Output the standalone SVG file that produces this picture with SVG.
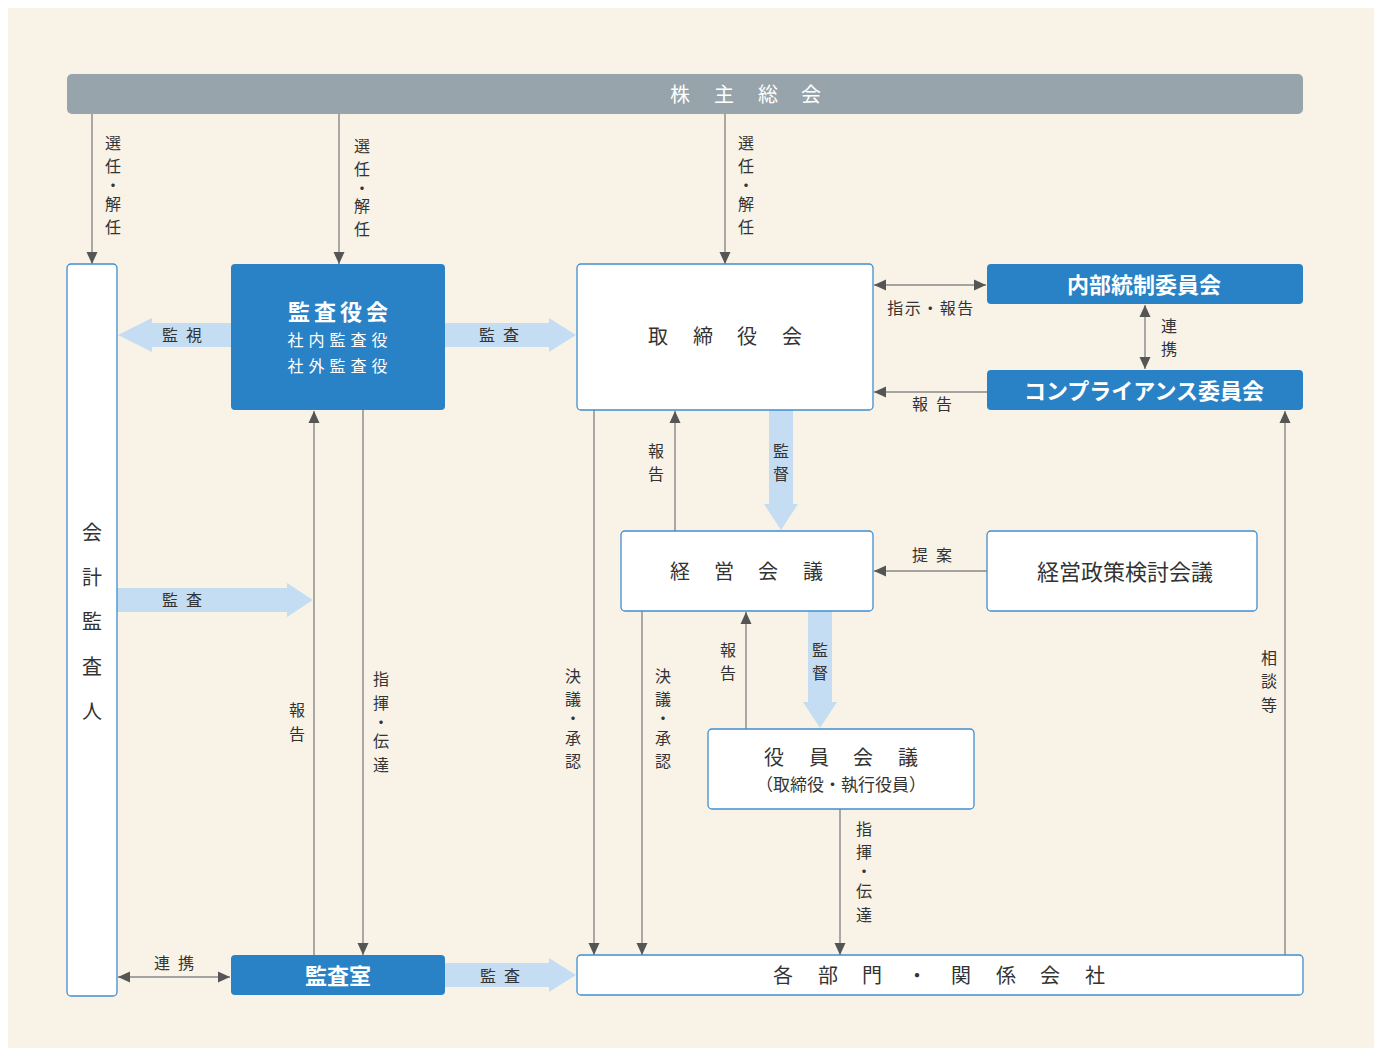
<svg xmlns="http://www.w3.org/2000/svg" width="1382" height="1048" viewBox="0 0 1382 1048">
<defs>
<style>
text{font-family:"Noto Sans CJK JP","Noto Sans",sans-serif;fill:#333;dominant-baseline:central;text-anchor:middle;transform:translate(0px,-1px)}
.lbl{font-size:16px}
.big{font-size:20px}
.ttl{font-size:22px}
.wt{fill:#fff}
.bold{font-weight:700}
.ln{stroke:#888;stroke-width:1.4;fill:none}
.arr{marker-end:url(#ah)}
.dbl{marker-start:url(#ah);marker-end:url(#ah)}
.wbox{fill:#fff;stroke:#3f8fd0;stroke-width:1.3}
.bbox{fill:#2a82c6}
.ba{fill:#c5ddf2}
</style>
<marker id="ah" viewBox="0 0 12 12" refX="12" refY="6" markerWidth="12" markerHeight="12" markerUnits="userSpaceOnUse" orient="auto-start-reverse">
<path d="M0,0.5 L12,6 L0,11.5 Z" fill="#555"/>
</marker>
</defs>
<rect width="1382" height="1048" fill="#fff"/>
<rect x="8" y="8" width="1366" height="1040" fill="#f8f2e7"/>

<g id="connectors">
<line class="ln arr" x1="92" y1="114" x2="92" y2="264"/>
<line class="ln arr" x1="339" y1="114" x2="339" y2="264"/>
<line class="ln arr" x1="725" y1="114" x2="725" y2="264"/>
<line class="ln dbl" x1="874" y1="285" x2="986" y2="285"/>
<line class="ln dbl" x1="1145" y1="305" x2="1145" y2="369"/>
<line class="ln arr" x1="987" y1="392" x2="874" y2="392"/>
<line class="ln arr" x1="675" y1="531" x2="675" y2="411"/>
<line class="ln arr" x1="987" y1="571" x2="874" y2="571"/>
<line class="ln arr" x1="594" y1="410" x2="594" y2="955"/>
<line class="ln arr" x1="642" y1="611" x2="642" y2="955"/>
<line class="ln arr" x1="746" y1="729" x2="746" y2="612"/>
<line class="ln arr" x1="840" y1="809" x2="840" y2="955"/>
<line class="ln arr" x1="1285" y1="955" x2="1285" y2="411"/>
<line class="ln arr" x1="314" y1="955" x2="314" y2="411"/>
<line class="ln arr" x1="363" y1="410" x2="363" y2="955"/>
<line class="ln dbl" x1="118" y1="977" x2="230" y2="977"/>
<polygon class="ba" points="231,323 152,323 152,318 118,335 152,352 152,347 231,347"/>
<polygon class="ba" points="445,323 549,323 549,318 576,335 549,352 549,347 445,347"/>
<polygon class="ba" points="769,410 793,410 793,504 798,504 781,530 764,504 769,504"/>
<polygon class="ba" points="808,611 832,611 832,702 837,702 820,728 803,702 808,702"/>
<polygon class="ba" points="117,588 287,588 287,583 313,600 287,617 287,612 117,612"/>
<polygon class="ba" points="445,963 549,963 549,958 576,975 549,992 549,987 445,987"/>
<text class="lbl" x="113 113 113 113 113" y="143 166 185 204 227">選任・解任</text>
<text class="lbl" x="362 362 362 362 362" y="146 169 188 206 229">選任・解任</text>
<text class="lbl" x="746 746 746 746 746" y="143 166 185 204 227">選任・解任</text>
<text class="lbl" x="170 194" y="335">監視</text>
<text class="lbl" x="487 511" y="335">監査</text>
<text class="lbl" x="931" y="308" letter-spacing="1.5">指示・報告</text>
<text class="lbl" x="920 944" y="404">報告</text>
<text class="lbl" x="1169 1169" y="326 349">連携</text>
<text class="lbl" x="656 656" y="451 474">報告</text>
<text class="lbl" x="781 781" y="451 474">監督</text>
<text class="lbl" x="920 944" y="555">提案</text>
<text class="lbl" x="573 573 573 573 573" y="676 699 718 738 761">決議・承認</text>
<text class="lbl" x="663 663 663 663 663" y="676 699 718 738 761">決議・承認</text>
<text class="lbl" x="728 728" y="650 673">報告</text>
<text class="lbl" x="820 820" y="650 673">監督</text>
<text class="lbl" x="864 864 864 864 864" y="829 852 871 891 915">指揮・伝達</text>
<text class="lbl" x="1269 1269 1269" y="658 681 705">相談等</text>
<text class="lbl" x="170 194" y="600">監査</text>
<text class="lbl" x="297 297" y="710 734">報告</text>
<text class="lbl" x="381 381 381 381 381" y="679 703 722 741 765">指揮・伝達</text>
<text class="lbl" x="162 186" y="963">連携</text>
<text class="lbl" x="488 512" y="976">監査</text>
</g>

<g id="shareholders">
<rect x="67" y="74" width="1236" height="40" rx="5" fill="#98a4ab"/>
<text class="big wt" x="680 724 768 811" y="94">株主総会</text>
</g>
<g id="auditor">
<rect class="wbox" x="67" y="264" width="50" height="732" rx="4"/>
<text class="big" x="92 92 92 92 92" y="532 577 621 666 711">会計監査人</text>
</g>
<g id="kansayakukai">
<rect class="bbox" x="231" y="264" width="214" height="146" rx="4"/>
<text class="ttl wt bold" x="340" y="311" letter-spacing="4">監査役会</text>
<text class="lbl wt" x="340" y="340" letter-spacing="5">社内監査役</text>
<text class="lbl wt" x="340" y="366" letter-spacing="5">社外監査役</text>
</g>
<g id="board">
<rect class="wbox" x="577" y="264" width="296" height="146" rx="4"/>
<text class="big" x="658 703 747 792" y="336">取締役会</text>
</g>
<g id="naibu">
<rect class="bbox" x="987" y="264" width="316" height="40" rx="4"/>
<text class="ttl wt bold" x="1144" y="284">内部統制委員会</text>
</g>
<g id="compliance">
<rect class="bbox" x="987" y="370" width="316" height="40" rx="4"/>
<text class="ttl wt bold" x="1144" y="390">コンプライアンス委員会</text>
</g>
<g id="keiei">
<rect class="wbox" x="621" y="531" width="252" height="80" rx="4"/>
<text class="big" x="680 724 768 813" y="571">経営会議</text>
</g>
<g id="seisaku">
<rect class="wbox" x="987" y="531" width="270" height="80" rx="4"/>
<text class="ttl" x="1125" y="571">経営政策検討会議</text>
</g>
<g id="yakuin">
<rect class="wbox" x="708" y="729" width="266" height="80" rx="4"/>
<text class="big" x="774 819 863 908" y="757">役員会議</text>
<text x="841" y="784" font-size="17">（取締役・執行役員）</text>
</g>
<g id="kansashitsu">
<rect class="bbox" x="231" y="955" width="214" height="40" rx="4"/>
<text class="ttl wt bold" x="338" y="975">監査室</text>
</g>
<g id="bumon">
<rect class="wbox" x="577" y="955" width="726" height="40" rx="4"/>
<text class="big" x="783 828 872 917 961 1006 1050 1095" y="975">各部門・関係会社</text>
</g>
</svg>
